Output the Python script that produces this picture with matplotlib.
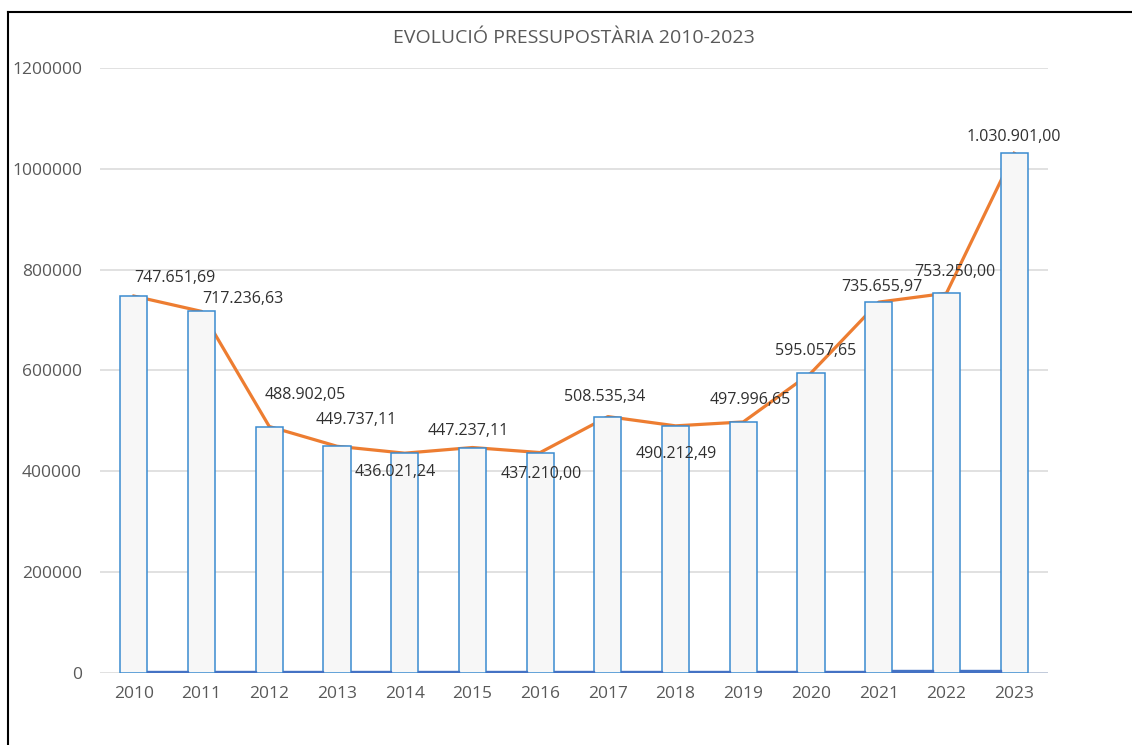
import matplotlib.pyplot as plt
import numpy as np
from matplotlib.lines import Line2D

plt.rcParams['font.family'] = ['Open Sans', 'DejaVu Sans']

# Data
years = ['2010', '2011', '2012', '2013', '2014', '2015', '2016',
         '2017', '2018', '2019', '2020', '2021', '2022', '2023']
pressupost = [747651.69, 717236.63, 488902.05, 449737.11, 436021.24, 447237.11,
              437210.00, 508535.34, 490212.49, 497996.65, 595057.65, 735655.97,
              753250.00, 1030901.00]
etiquetes = ['747.651,69', '717.236,63', '488.902,05', '449.737,11', '436.021,24',
             '447.237,11', '437.210,00', '508.535,34', '490.212,49', '497.996,65',
             '595.057,65', '735.655,97', '753.250,00', '1.030.901,00']
serie2 = [3500, 3500, 3500, 3500, 3500, 3500, 3500, 3500, 3500, 3500, 3500,
          5000, 5500, 0]
yticks = [0, 200000, 400000, 600000, 800000, 1000000, 1200000]

# label offsets in pixels (dx, dy up)
offs = [(41, 18), (41, 12), (36, 32), (19, 26), (-9, -19), (-4, 17), (1, -21),
        (-3, 20), (1, -28), (7, 22), (5, 22), (3, 15), (8, 21), (0, 16)]

x = np.arange(len(years))

fig = plt.figure(figsize=(11.32, 7.45), dpi=100)
ax = fig.add_axes([100/1132, 1-673/745, (1048-100)/1132, (673-68)/745])

ax.plot(x, pressupost, color='#ED7D31', linewidth=2.3, zorder=2)
ax.bar(x, pressupost, width=0.4, color='#F7F7F7', edgecolor='#3A8BD0',
       linewidth=1.1, zorder=3)
ax.bar(x + 0.5, serie2, width=0.6, color='#4472C4', edgecolor='#4472C4',
       linewidth=1.0, zorder=4)

for i in range(len(years)):
    ax.annotate(etiquetes[i], (x[i], pressupost[i]),
                xytext=(offs[i][0]*0.72, offs[i][1]*0.72), textcoords='offset points',
                ha='center', va='center', fontsize=11.5, color='#303030', zorder=5)

ax.set_xlim(-0.5, 13.5)
ax.set_ylim(0, 1200000)
ax.set_xticks(x)
ax.set_xticklabels(years)
ax.set_yticks(yticks)
ax.set_yticklabels([str(v) for v in yticks])
ax.tick_params(axis='both', length=0, labelsize=12.5, labelcolor='#595959')
ax.tick_params(axis='y', pad=13)
ax.tick_params(axis='x', pad=9)
ax.grid(axis='y', color='#D9D9D9', linewidth=1.1, zorder=0)
ax.set_axisbelow(True)
for s in ax.spines.values():
    s.set_visible(False)

fig.text(574/1132, 1-38/745, 'EVOLUCIÓ PRESSUPOSTÀRIA 2010-2023', ha='center',
         va='center', fontsize=14, color='#595959')

# outer frame (left and top)
fig.add_artist(Line2D([8/1132, 8/1132], [0, 1-12/745], color='black', lw=1.5))
fig.add_artist(Line2D([8/1132, 1], [1-12/745, 1-12/745], color='black', lw=1.5))

fig.savefig('out.png', dpi=100)
